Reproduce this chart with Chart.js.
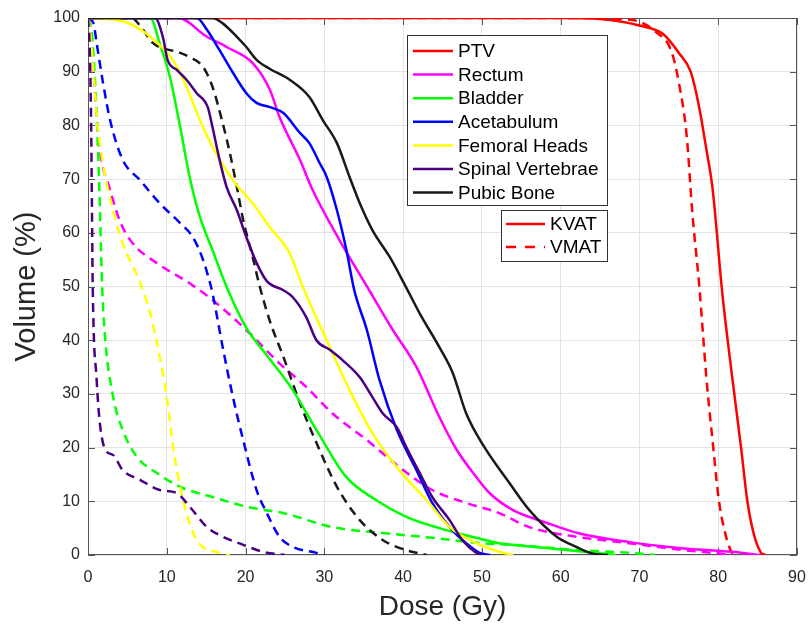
<!DOCTYPE html>
<html>
<head>
<meta charset="utf-8">
<script src="https://cdn.jsdelivr.net/npm/chart.js@4/dist/chart.umd.min.js"></script>
<style>
  html, body { margin: 0; padding: 0; background: #fff; }
  #wrap { width: 810px; height: 627px; }
</style>
</head>
<body>
<div id="wrap"><canvas id="dvh" width="810" height="627"></canvas></div>
<script>
// [dose Gy, volume %]
const ptvKvat = [[0,100],[60,100],[65,99.8],[70,98.6],[73,97],[75,93.5],[76.5,90],[77.5,84],[78.5,75.5],[79.3,68],[80.5,49],[81.7,34],[82.9,20],[83.7,10],[84.5,4],[85.4,0.5],[86,0]];
const ptvVmat = [[0,100],[62,100],[68,99.8],[70,99.3],[72,97.5],[74,94],[75,88],[76,78],[76.7,64],[77.6,50],[78.5,33],[79.3,21],[80.1,10],[81,3.4],[81.7,0.5],[82,0]];

const rectumKvat = [[0,100],[11.5,100],[15,96.6],[17.6,94.6],[20.9,91.6],[23.1,86.6],[24.3,81.6],[26.9,73.6],[28.5,68],[31.9,58.7],[35.7,49.3],[38.7,41.9],[41.7,35],[44.6,25.7],[46.8,19.6],[49.3,14.5],[51,11.5],[53.9,8.4],[58.2,6],[62.4,4],[68.7,2.4],[75,1.3],[81.7,0.6],[85.4,0]];
const rectumVmat = [[0,100],[0.3,97],[0.8,88],[1.2,80],[1.5,75.4],[2.8,68],[4.1,62],[5.7,58],[8.7,54.4],[12.9,50.6],[15.8,47.5],[20.1,41.9],[24.3,35.7],[27.7,31.3],[31,26.4],[35.4,21.4],[39.5,16.4],[43.7,12.1],[48,9.7],[52.2,7.8],[56,5.2],[62,3.4],[68.7,2.2],[75,1],[79.3,0.4],[82,0]];

const bladderKvat = [[0,100],[7.9,100],[9.1,95.3],[10.4,89],[11.7,79.7],[12.9,70.4],[14.2,63],[15.8,56.8],[17.6,49.9],[20.1,42.3],[22.7,37.2],[26,30.7],[29,23.3],[32.8,14.5],[36.6,10.2],[40.4,7.1],[44.6,5],[49.3,3.2],[52.2,2.2],[53.9,1.9],[58.2,1.3],[63.6,0.5],[67,0]];
const bladderVmat = [[0,100],[0.5,97],[1,85],[1.4,70],[1.8,50],[2.2,40],[3.2,29.4],[4.4,23.3],[6.2,18.3],[8.7,15.3],[11.7,12.7],[15.8,10.8],[20.1,9],[24.8,7.8],[31,5.2],[37.4,4.1],[43.7,3.2],[50,2.2],[53.9,1.9],[62.4,0.9],[68.7,0.4],[72,0]];

const acetabKvat = [[0,100],[13.8,100],[15.1,97.8],[16.7,94],[18.4,89.8],[20.1,86],[21.4,84.2],[23.1,83.4],[24.8,82.3],[26.9,78.6],[28.1,76.7],[29.4,73],[30.3,70.4],[31.6,64.2],[32.8,56.8],[33.8,49.3],[35.4,41.9],[37,32.6],[39.2,23.3],[41.7,15.8],[43.7,9.7],[45.9,5.2],[48,2.2],[49.7,0.4],[51,0]];
const acetabVmat = [[0,100],[0.7,99],[1.1,95.3],[1.9,88],[2.8,81],[4.4,73.6],[6.6,69.8],[9.1,65.5],[11.7,61.8],[13.3,59.2],[14.6,55],[15.5,50.6],[15.8,48.8],[17.1,38.7],[18.4,29.4],[19.7,21.4],[21.4,12.1],[22.7,7.8],[24.3,3.4],[26,1.5],[29,0.4],[30,0]];

const femoralKvat = [[0,100],[4.4,99.4],[9.5,94.4],[11.3,90.9],[12.5,87.2],[14.2,81],[15.8,76],[18.4,69.8],[20.9,65.5],[23.1,61],[25.6,56.2],[27.3,49.8],[30.3,40],[33.2,30.7],[36.1,22.7],[39.5,15.8],[43,10.2],[45.9,5.2],[49.3,2.2],[52.2,0.6],[54,0]];
const femoralVmat = [[0,100],[0.3,97],[0.8,88],[1.2,80],[1.5,76.7],[2.2,70.4],[3.2,64],[4.4,58],[6.4,51.5],[7.9,45],[9.1,36.9],[10,29.4],[10.8,20.1],[11.7,12.7],[12.5,7.8],[13.8,2.8],[16.7,0.4],[18,0]];

const spinalKvat = [[0,100],[8.5,100],[9.5,96.5],[10.1,92.2],[11.3,90.3],[12.5,88.5],[13.8,86],[15.2,83.4],[15.8,79.7],[16.7,73.6],[17.6,68.5],[18.9,64.2],[20.1,59.2],[21.4,54.4],[22.7,51],[24.8,49.3],[26,48],[27.7,44.3],[29,40],[30.7,38.2],[32.3,36.3],[34.5,33.1],[36.1,29.4],[37.4,26.4],[39.2,23.8],[40.4,20.1],[42.1,15.3],[43.7,10.8],[45.9,6.5],[47.5,2.8],[49.3,0.4],[50,0]];
const spinalVmat = [[0,100],[0.2,95],[0.4,80],[0.5,65],[0.6,50],[1.1,32.6],[1.5,24.6],[2.2,19.6],[3.2,18.6],[4.4,15.8],[6.6,14],[9.1,12.1],[11.3,11.5],[12.9,9],[15.1,5.2],[17.1,3.4],[19.7,1.9],[22.2,0.6],[25,0]];

const pubicKvat = [[0,100],[15.8,100],[17.1,99],[18.9,96.5],[20.1,94.6],[21.4,92.2],[23.1,90.5],[25.6,88.5],[28.1,85.3],[29.8,81],[31.6,76.7],[33.2,70.4],[34.5,65.5],[36.1,60.5],[38.3,55.5],[40.4,49.8],[42.1,45],[44.6,38.7],[46.3,33.9],[48,26.4],[50.1,20.6],[53.5,13.4],[56,8.4],[59.5,3.4],[62,1.5],[64,0.3],[66,0]];
const pubicVmat = [[0,100],[5.5,100],[7,97.8],[8.1,95.5],[11.7,93.5],[12.9,92.7],[14.6,90.9],[15.8,87.2],[17.1,80.4],[18,74.9],[18.9,68.5],[19.7,62.4],[20.9,55.5],[21.8,50],[23.1,43.5],[24.8,36.9],[26.9,28.3],[29,20.9],[31.6,12.7],[34.5,6.5],[37.4,2.8],[40.4,0.9],[43,0]];

const structureNames = ['PTV', 'Rectum', 'Bladder', 'Acetabulum', 'Femoral Heads', 'Spinal Vertebrae', 'Pubic Bone'];
const structureColors = ['#ff0000', '#ff00ff', '#00ff00', '#0000ff', '#ffff00', '#4b0082', '#1a1a1a'];
const kvatCurves = [ptvKvat, rectumKvat, bladderKvat, acetabKvat, femoralKvat, spinalKvat, pubicKvat];
const vmatCurves = [ptvVmat, rectumVmat, bladderVmat, acetabVmat, femoralVmat, spinalVmat, pubicVmat];
const doseTicks = [0, 10, 20, 30, 40, 50, 60, 70, 80, 90];
const volumeTicks = [0, 10, 20, 30, 40, 50, 60, 70, 80, 90, 100];

const FONT = '"Liberation Sans", Arial, Helvetica, sans-serif';
const DASH = [9, 6];

const toPoints = (pairs) => pairs.map(([x, y]) => ({ x, y }));

// dashed drawn first, solid on top; later structures above earlier ones
const datasets = [];
let z = 100;
vmatCurves.forEach((curve, i) => {
  datasets.push({
    label: structureNames[i] + ' VMAT',
    data: toPoints(curve),
    borderColor: structureColors[i],
    borderDash: DASH,
    order: z--
  });
});
kvatCurves.forEach((curve, i) => {
  datasets.push({
    label: structureNames[i] + ' KVAT',
    data: toPoints(curve),
    borderColor: structureColors[i],
    order: z--
  });
});

// axes box + inward ticks, under the curves
const frame = {
  id: 'frame',
  beforeDatasetsDraw(chart) {
    const { ctx, chartArea: a, scales } = chart;
    ctx.save();
    ctx.strokeStyle = '#555';
    ctx.lineWidth = 1;
    ctx.strokeRect(a.left + 0.5, a.top + 0.5, a.right - a.left - 1, a.bottom - a.top - 1);
    ctx.beginPath();
    doseTicks.forEach(t => {
      const x = Math.round(scales.x.getPixelForValue(t)) + 0.5;
      ctx.moveTo(x, a.bottom); ctx.lineTo(x, a.bottom - 7);
      ctx.moveTo(x, a.top); ctx.lineTo(x, a.top + 7);
    });
    volumeTicks.forEach(t => {
      const y = Math.round(scales.y.getPixelForValue(t)) + 0.5;
      ctx.moveTo(a.left, y); ctx.lineTo(a.left + 7, y);
      ctx.moveTo(a.right, y); ctx.lineTo(a.right - 7, y);
    });
    ctx.stroke();
    ctx.restore();
  }
};

const legendBoxes = {
  id: 'legendBoxes',
  afterDatasetsDraw(chart) {
    const { ctx } = chart;
    ctx.save();
    const drawBox = (x, y, w, h) => {
      ctx.fillStyle = '#fff';
      ctx.fillRect(x, y, w, h);
      ctx.strokeStyle = '#333';
      ctx.lineWidth = 1;
      ctx.strokeRect(x + 0.5, y + 0.5, w, h);
    };
    ctx.font = '19px ' + FONT;
    ctx.textBaseline = 'middle';
    drawBox(407, 35, 200, 170);
    structureNames.forEach((name, i) => {
      const y = 51 + i * 23.6;
      ctx.strokeStyle = structureColors[i];
      ctx.lineWidth = 2.5;
      ctx.setLineDash([]);
      ctx.beginPath(); ctx.moveTo(413, y); ctx.lineTo(453, y); ctx.stroke();
      ctx.fillStyle = '#000';
      ctx.fillText(name, 458, y + 1);
    });
    drawBox(501, 210, 106, 51);
    [['KVAT', []], ['VMAT', [10, 9]]].forEach(([name, dash], i) => {
      const y = 224 + i * 23;
      ctx.strokeStyle = '#ff0000';
      ctx.lineWidth = 2.5;
      ctx.setLineDash(dash);
      ctx.beginPath(); ctx.moveTo(506, y); ctx.lineTo(545, y); ctx.stroke();
      ctx.setLineDash([]);
      ctx.fillStyle = '#000';
      ctx.fillText(name, 550, y + 1);
    });
    ctx.restore();
  }
};

new Chart(document.getElementById('dvh'), {
  type: 'line',
  data: { datasets },
  options: {
    responsive: false,
    animation: false,
    devicePixelRatio: 1,
    layout: { padding: { top: 18, right: 13, left: 0, bottom: 0 } },
    elements: {
      point: { radius: 0 },
      line: { borderWidth: 2.5, cubicInterpolationMode: 'monotone' }
    },
    plugins: { legend: { display: false }, tooltip: { enabled: false } },
    scales: {
      x: {
        type: 'linear',
        min: 0, max: 90,
        afterFit: (s) => { s.height = 72; s.paddingLeft = 0; s.paddingRight = 0; },
        afterBuildTicks: (s) => { s.ticks = doseTicks.map(v => ({ value: v })); },
        border: { display: false },
        grid: { color: '#e3e3e3', drawTicks: false },
        ticks: { color: '#262626', font: { family: FONT, size: 16 }, padding: 13, maxRotation: 0 },
        title: { display: true, text: 'Dose (Gy)', color: '#262626', font: { family: FONT, size: 28 }, padding: { top: 0, bottom: 3 } }
      },
      y: {
        min: 0, max: 100,
        afterFit: (s) => { s.width = 88; s.paddingTop = 0; s.paddingBottom = 0; },
        afterBuildTicks: (s) => { s.ticks = volumeTicks.map(v => ({ value: v })); },
        border: { display: false },
        grid: { color: '#e3e3e3', drawTicks: false },
        ticks: { color: '#262626', font: { family: FONT, size: 16 }, padding: 8 },
        title: { display: true, text: 'Volume (%)', color: '#262626', font: { family: FONT, size: 29 }, padding: { top: 10, bottom: 0 } }
      }
    }
  },
  plugins: [frame, legendBoxes]
});
</script>
</body>
</html>
